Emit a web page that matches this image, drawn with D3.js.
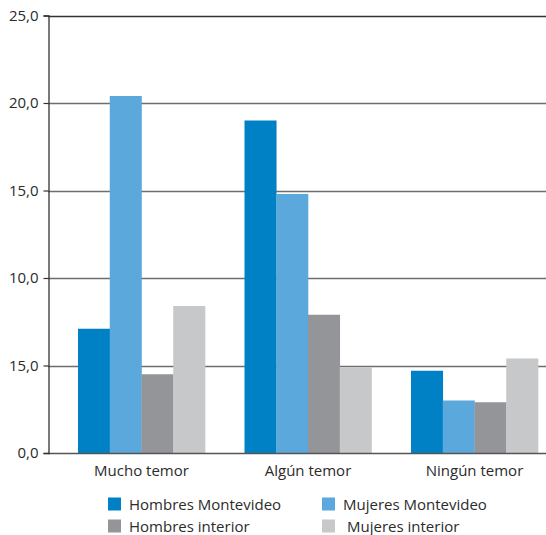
<!DOCTYPE html>
<html>
<head>
<meta charset="utf-8">
<script src="https://cdn.jsdelivr.net/npm/d3@7"></script>
<style>
  html, body { margin: 0; padding: 0; background: #fff; }
  svg { display: block; }
  text { font-family: "Open Sans", "DejaVu Sans", sans-serif; fill: #2b2b2b; }
</style>
</head>
<body>
<svg id="chart" width="546" height="535"></svg>
<script>
const categories = ["Mucho temor", "Algún temor", "Ningún temor"];
const seriesNames = ["Hombres Montevideo", "Mujeres Montevideo", "Hombres interior", "Mujeres interior"];
const hombresMontevideo = [7.1, 19.0, 4.7];
const mujeresMontevideo = [20.4, 14.8, 3.0];
const hombresInterior = [4.5, 7.9, 2.9];
const mujeresInterior = [8.4, 4.9, 5.4];
const tickValues = [0, 5, 10, 15, 20, 25];
const tickLabels = ["0,0", "15,0", "10,0", "15,0", "20,0", "25,0"];
const colors = ["#0081c6", "#5ba8dc", "#939598", "#c7c8ca"];

const seriesValues = [hombresMontevideo, mujeresMontevideo, hombresInterior, mujeresInterior];

const svg = d3.select("#chart");
const axisX = 48, plotRight = 546;
const y = d3.scaleLinear().domain([0, 25]).range([453, 15.5]);
const x0 = d3.scaleBand().domain(categories).range([58.25, 557.75]).padding(0);
const x1 = d3.scaleBand().domain(seriesNames).range([19.75, 146.75]).padding(0);

// gridlines
svg.append("g").selectAll("line").data(tickValues.filter(v => v > 0)).join("line")
  .attr("x1", axisX).attr("x2", plotRight)
  .attr("y1", d => Math.round(y(d)) + 0.5).attr("y2", d => Math.round(y(d)) + 0.5)
  .attr("stroke", d => d === 25 ? "#333" : "#6d6e70").attr("stroke-width", 1.3);

// bars
const groups = svg.append("g").selectAll("g").data(categories).join("g")
  .attr("transform", d => `translate(${x0(d)},0)`);
groups.selectAll("rect")
  .data((c, ci) => seriesNames.map((s, si) => ({ s, si, v: seriesValues[si][ci] })))
  .join("rect")
  .attr("x", d => x1(d.s))
  .attr("width", x1.bandwidth() + 0.3)
  .attr("y", d => y(d.v))
  .attr("height", d => y(0) - y(d.v))
  .attr("fill", d => colors[d.si]);

// baseline
svg.append("line").attr("x1", axisX).attr("x2", plotRight)
  .attr("y1", Math.round(y(0)) + 0.5).attr("y2", Math.round(y(0)) + 0.5)
  .attr("stroke", "#555").attr("stroke-width", 1.3);

// y axis
const yAxis = d3.axisLeft(y).tickValues(tickValues).tickSize(5).tickPadding(5)
  .tickFormat((d, i) => tickLabels[i]);
const ya = svg.append("g").attr("transform", `translate(${axisX + 0.5},0)`).call(yAxis);
ya.select(".domain").attr("stroke", "#333").attr("stroke-width", 1.3);
ya.selectAll(".tick line").attr("stroke", "#333").attr("stroke-width", 1.2);
ya.selectAll(".tick text").attr("font-size", 15).attr("font-family", "\"Open Sans\", sans-serif").attr("fill", "#2b2b2b");

// x category labels
svg.append("g").selectAll("text").data(categories).join("text")
  .attr("x", d => x0(d) + x0.bandwidth() / 2)
  .attr("y", 476)
  .attr("text-anchor", "middle")
  .attr("font-size", 15)
  .text(d => d);

// legend
const legendPos = [[108, 504], [322, 504], [108, 526], [322, 526]];
const legendOrder = [0, 1, 2, 3];
const lg = svg.append("g").selectAll("g").data(legendOrder).join("g")
  .attr("transform", d => `translate(${legendPos[d][0]},${legendPos[d][1]})`);
lg.append("rect").attr("x", 0).attr("y", -6.5).attr("width", 13).attr("height", 13)
  .attr("fill", d => colors[d]);
lg.append("text").attr("x", d => d === 3 ? 25 : 21).attr("y", 6)
  .attr("font-size", 15).text(d => seriesNames[d]);
</script>
</body>
</html>
